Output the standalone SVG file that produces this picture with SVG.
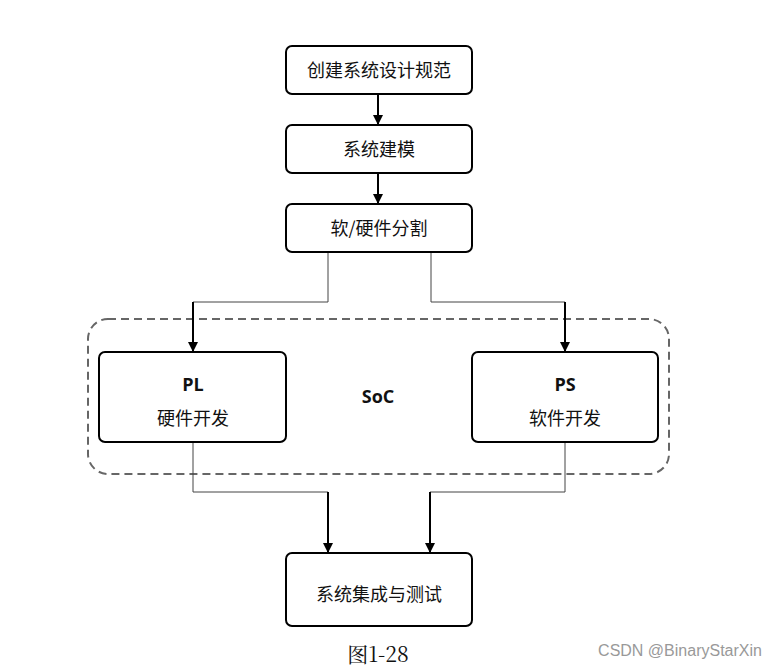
<svg xmlns="http://www.w3.org/2000/svg" width="784" height="670" viewBox="0 0 784 670">
<style>
.box{fill:#fff;stroke:#000;stroke-width:2}
.t{font-family:"Noto Sans CJK SC","Noto Sans",sans-serif;font-size:18px;fill:#111;text-anchor:middle}
.b{font-family:"Open Sans","Noto Sans",sans-serif;font-size:18px;font-weight:bold;fill:#111;text-anchor:middle}
.thin{fill:none;stroke:#444;stroke-width:1}
.arr{fill:none;stroke:#000;stroke-width:2;marker-end:url(#ah)}
</style>
<defs>
<marker id="ah" markerWidth="10" markerHeight="10" refX="9" refY="5" orient="auto" markerUnits="userSpaceOnUse">
<path d="M0,0 L10,5 L0,10 z" fill="#000"/>
</marker>
</defs>
<rect width="784" height="670" fill="#fff"/>
<g id="soc">
<rect x="88" y="319" width="581" height="155" rx="20" fill="none" stroke="#666" stroke-width="2" stroke-dasharray="8,5"/>
<text class="b" x="378" y="403">SoC</text>
</g>
<g id="n1"><rect class="box" x="286" y="46" width="186" height="48" rx="6"/><text class="t" x="379" y="77">创建系统设计规范</text></g>
<g id="n2"><rect class="box" x="286" y="125" width="186" height="48" rx="6"/><text class="t" x="379" y="156">系统建模</text></g>
<g id="n3"><rect class="box" x="286" y="204" width="186" height="48" rx="6"/><text class="t" x="379" y="235">软/硬件分割</text></g>
<g id="pl"><rect class="box" x="99" y="352" width="187" height="90" rx="6"/><text class="b" x="193" y="391">PL</text><text class="t" x="193" y="425">硬件开发</text></g>
<g id="ps"><rect class="box" x="472" y="352" width="186" height="90" rx="6"/><text class="b" x="565" y="391">PS</text><text class="t" x="565" y="425">软件开发</text></g>
<g id="n4"><rect class="box" x="286" y="553" width="186" height="73" rx="6"/><text class="t" x="379" y="601">系统集成与测试</text></g>
<g id="connectors">
<line class="arr" x1="378" y1="95" x2="378" y2="124"/>
<line class="arr" x1="378" y1="174" x2="378" y2="203"/>
<polyline class="thin" points="328,253 328,302 193,302 193,320"/>
<line class="arr" x1="193" y1="302" x2="193" y2="351"/>
<polyline class="thin" points="431,253 431,302 565,302 565,320"/>
<line class="arr" x1="565" y1="302" x2="565" y2="351"/>
<polyline class="thin" points="193,443 193,492 328,492"/>
<line class="arr" x1="328" y1="492" x2="328" y2="552"/>
<polyline class="thin" points="565,443 565,492 430,492"/>
<line class="arr" x1="430" y1="492" x2="430" y2="552"/>
</g>
<text x="378" y="662" font-family="'Noto Serif CJK SC','Liberation Serif','Noto Sans CJK SC',serif" font-size="21" text-anchor="middle" fill="#111">图1-28</text>
<text x="680" y="656" font-family="'Liberation Sans',sans-serif" font-size="16" text-anchor="middle" fill="#999">CSDN @BinaryStarXin</text>
</svg>
